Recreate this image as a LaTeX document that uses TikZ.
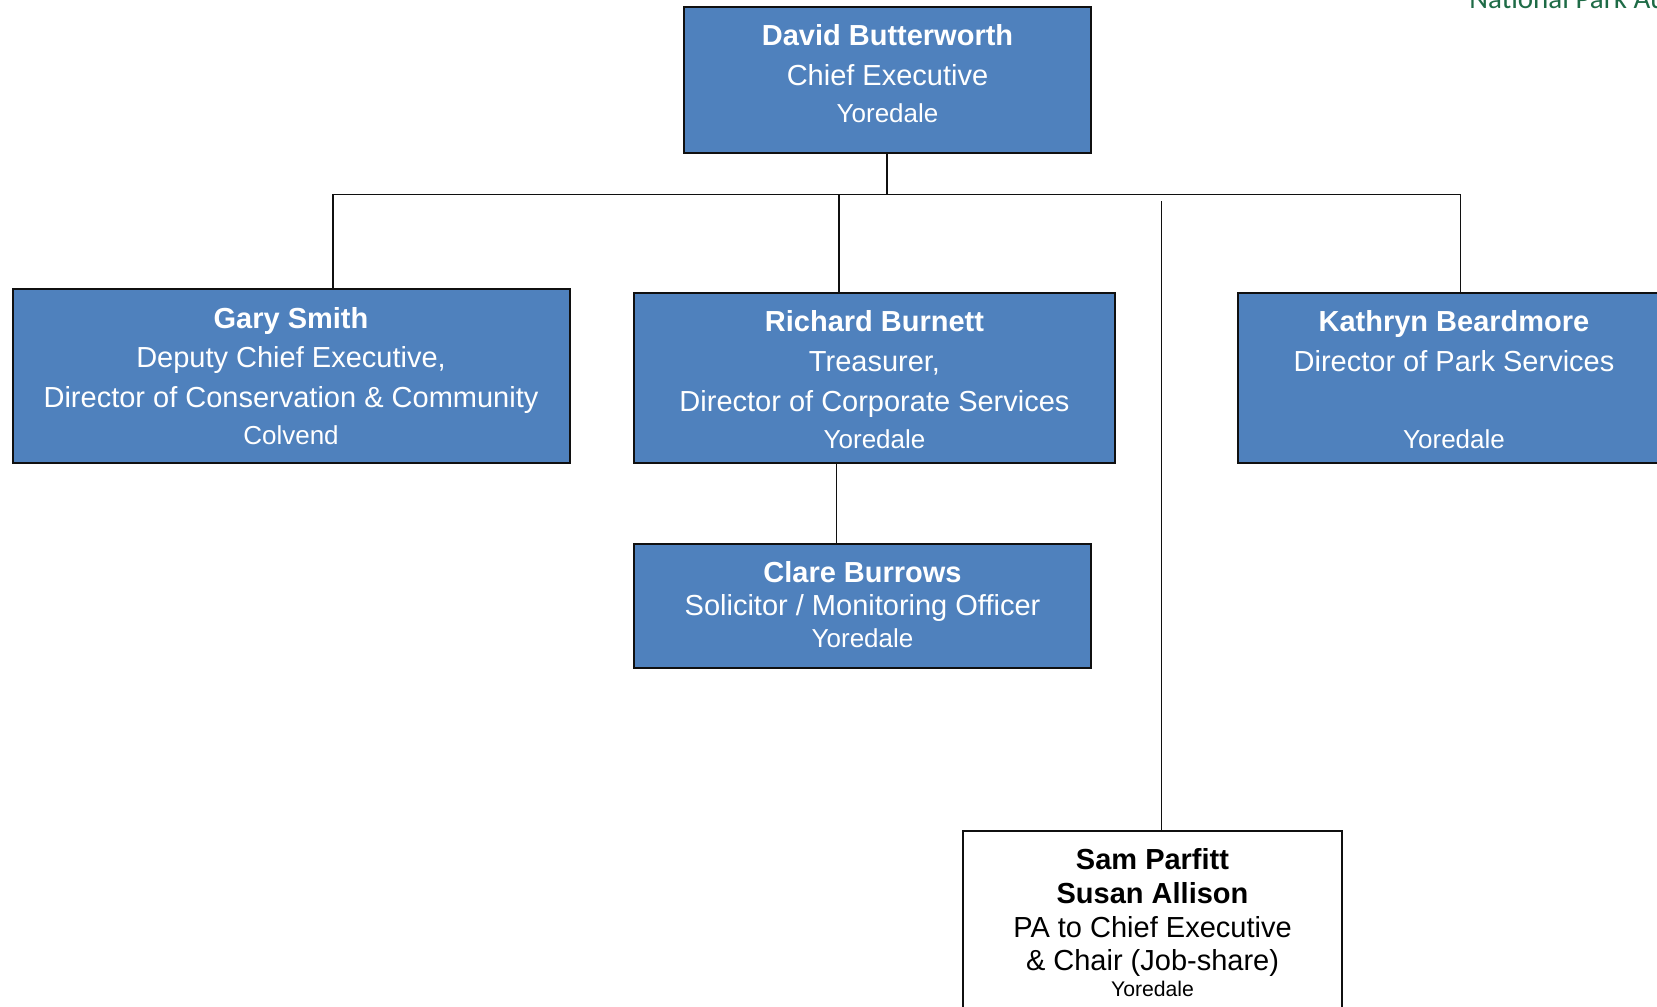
\documentclass[tikz,border=0pt]{standalone}
\usepackage{fontspec}
\setmainfont{Liberation Sans}
\newfontfamily\npafont{Carlito}
\definecolor{boxblue}{HTML}{4F81BD}
\definecolor{npgreen}{HTML}{1E6B46}
\definecolor{lineblk}{HTML}{101010}
\begin{document}
\begin{tikzpicture}[x=0.5pt,y=-0.5pt,
 orgbox/.style={draw=lineblk, line width=0.95pt, fill=boxblue, inner sep=0pt, outer sep=0pt, anchor=north west},
 pabox/.style={draw=lineblk, line width=0.95pt, fill=white, inner sep=0pt, outer sep=0pt, anchor=north west},
 conn/.style={draw=lineblk, line width=0.95pt},
 nm/.style={anchor=base, inner sep=0pt, font=\bfseries\fontsize{14.5}{17}\selectfont, text=white},
 tl/.style={anchor=base, inner sep=0pt, font=\fontsize{14.5}{17}\selectfont, text=white},
 loc/.style={anchor=base, inner sep=0pt, font=\fontsize{13}{15}\selectfont, text=white},
 nmk/.style={nm, text=black},
 tlk/.style={tl, text=black},
 lock/.style={anchor=base, inner sep=0pt, font=\fontsize{10.6}{12}\selectfont, text=black},
]
\useasboundingbox (0,0) rectangle (1657,1006);
\clip (0,0) rectangle (1657,1006);

% boxes
\node[orgbox, minimum width=203.5pt, minimum height=73pt] (david) at (684,7) {};
\node[orgbox, minimum width=278.5pt, minimum height=87pt] (gary) at (13,289) {};
\node[orgbox, minimum width=240.5pt, minimum height=85pt] (richard) at (634,293) {};
\node[orgbox, minimum width=217pt, minimum height=85pt] (kathryn) at (1238,293) {};
\node[orgbox, minimum width=228.5pt, minimum height=62pt] (clare) at (634,544) {};
\node[pabox, minimum width=189.5pt, minimum height=110pt] (sam) at (963,831) {};

% connectors
\coordinate (busL) at (333,194.5);
\coordinate (busR) at (1460.5,194.5);
\coordinate (jR) at (839,194.5);
\coordinate (samTop) at (1161.5,201);
\coordinate (rcX) at (836.5,500);
\draw[conn] (busL |- gary.north) -- (busL) -- (busR) -- (busR |- kathryn.north);
\draw[conn] ([xshift=-0.25pt]david.south) -- ([xshift=-0.25pt]david.south |- busL);
\draw[conn] (jR) -- (jR |- richard.north);
\draw[conn] (samTop) -- (samTop |- sam.north);
\draw[conn] (rcX |- richard.south) -- (rcX |- clare.north);

% texts
\node[nm] (davidA) at (887.5,46) {David Butterworth};
\node[tl] (davidB) at (887.5,86) {Chief Executive};
\node[loc] (davidC) at (887.5,122) {Yoredale};

\node[nm] (garyA) at (291,328) {Gary Smith};
\node[tl] (garyB) at (291,367) {Deputy Chief Executive,};
\node[tl] (garyC) at (291,407) {Director of Conservation \& Community};
\node[loc] (garyD) at (291,444) {Colvend};

\node[nm] (richardA) at (874.5,331) {Richard Burnett};
\node[tl] (richardB) at (874.5,371) {Treasurer,};
\node[tl] (richardC) at (874.5,411) {Director of Corporate Services};
\node[loc] (richardD) at (874.5,448) {Yoredale};

\node[nm] (kathrynA) at (1454,331) {Kathryn Beardmore};
\node[tl] (kathrynB) at (1454,371) {Director of Park Services};
\node[loc] (kathrynD) at (1454,448) {Yoredale};

\node[nm] (clareA) at (862.5,582) {Clare Burrows};
\node[tl] (clareB) at (862.5,615) {Solicitor / Monitoring Officer};
\node[loc] (clareC) at (862.5,647) {Yoredale};

\node[nmk] (samA) at (1152.5,869) {Sam Parfitt};
\node[nmk] (samB) at (1152.5,903) {Susan Allison};
\node[tlk] (samC) at (1152.5,937) {PA to Chief Executive};
\node[tlk] (samD) at (1152.5,970) {\& Chair (Job-share)};
\node[lock] (samE) at (1152.5,996) {Yoredale};

\node[anchor=base west, inner sep=0pt, font=\npafont\fontsize{14.5}{17}\selectfont, text=npgreen] (npa) at (1469,9) {National Park Authority};
\end{tikzpicture}
\end{document}
